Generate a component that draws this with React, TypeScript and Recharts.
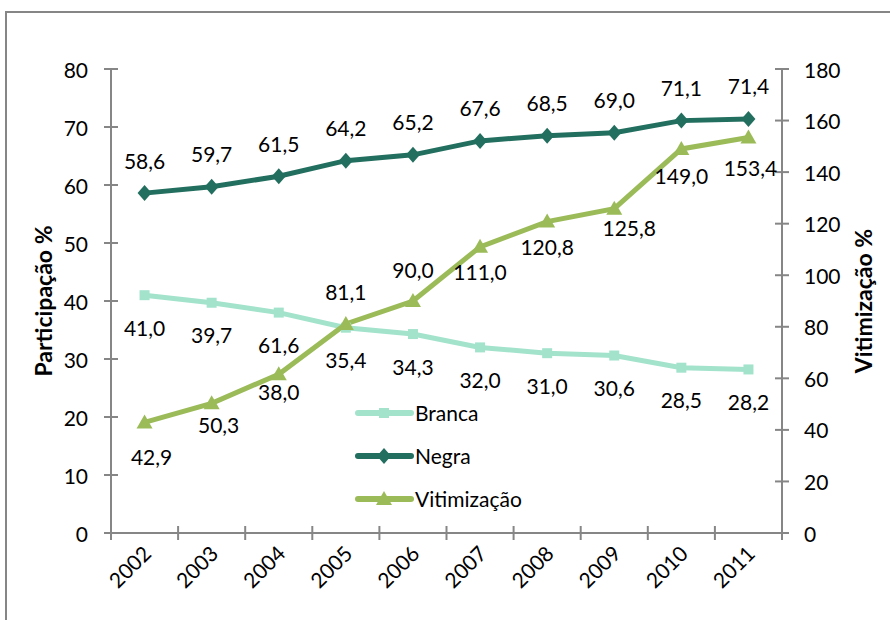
import React from 'react';
import { LineChart, Line, XAxis, YAxis, Legend, LabelList } from 'recharts';

const years = ['2002', '2003', '2004', '2005', '2006', '2007', '2008', '2009', '2010', '2011'];
const branca = [41.0, 39.7, 38.0, 35.4, 34.3, 32.0, 31.0, 30.6, 28.5, 28.2];
const negra = [58.6, 59.7, 61.5, 64.2, 65.2, 67.6, 68.5, 69.0, 71.1, 71.4];
const vitimizacao = [42.9, 50.3, 61.6, 81.1, 90.0, 111.0, 120.8, 125.8, 149.0, 153.4];
const leftTicks = [0, 10, 20, 30, 40, 50, 60, 70, 80];
const rightTicks = [0, 20, 40, 60, 80, 100, 120, 140, 160, 180];

// label placement as in the source chart (pixels from the point)
const brancaDy = 32;
const negraDy = -33;
const vitDy = [34, 21, 17, -32, -32, 25, 25, 19, 27, 30];
const vitDx = [7, 7, 0, 0, 0, 0, 0, 15, 0, 2];
// in the source the 2004 labels of Branca and Vitimização are swapped
const swappedIdx = 2;

const W = 890;
const H = 620;
const LEFT_W = 111;
const RIGHT_W = 108;
const X_H = 87;
const TOP = 69;
const BAND = (W - LEFT_W - RIGHT_W) / years.length;

const FONT = 'Lato, "Open Sans", sans-serif';
const AXIS = '#868686';
const C_BRANCA = '#A3E3CC';
const C_NEGRA = '#236F5F';
const C_VIT = '#9BBB59';

const data = years.map((year, i) => ({ year, branca: branca[i], negra: negra[i], vitimizacao: vitimizacao[i] }));

const fmt = (v: number) => v.toFixed(1).replace('.', ',');

function Marker({ kind, cx, cy, color }: { kind: string; cx: number; cy: number; color: string }) {
  if (cx == null || cy == null) return null;
  if (kind === 'square') return <rect x={cx - 5} y={cy - 5} width={10} height={10} fill={color} />;
  if (kind === 'diamond') return <path d={`M${cx},${cy - 8}L${cx + 7},${cy}L${cx},${cy + 8}L${cx - 7},${cy}Z`} fill={color} />;
  return <path d={`M${cx},${cy - 8}L${cx + 8},${cy + 6}L${cx - 8},${cy + 6}Z`} fill={color} />;
}

const dot = (kind: string, color: string) => (p: any) => <Marker key={p.index} kind={kind} cx={p.cx} cy={p.cy} color={color} />;

const txt = { fontFamily: FONT, fontSize: 21, fill: '#000' };

function LeftTick({ x, y, payload }: any) {
  return (
    <g>
      <line x1={x - 7} x2={x + 7} y1={y} y2={y} stroke={AXIS} strokeWidth={2} />
      <text x={x - 23} y={y} textAnchor="end" dominantBaseline="central" {...txt}>{payload.value}</text>
    </g>
  );
}

function RightTick({ x, y, payload }: any) {
  return (
    <g>
      <line x1={x - 7} x2={x + 7} y1={y} y2={y} stroke={AXIS} strokeWidth={2} />
      <text x={x + 22} y={y} textAnchor="start" dominantBaseline="central" {...txt}>{payload.value}</text>
    </g>
  );
}

function BottomTick({ x, y, payload, index }: any) {
  const bx = x - BAND / 2;
  return (
    <g>
      <line x1={bx} x2={bx} y1={y - 7} y2={y + 7} stroke={AXIS} strokeWidth={2} />
      {index === years.length - 1 && <line x1={bx + BAND} x2={bx + BAND} y1={y - 7} y2={y + 7} stroke={AXIS} strokeWidth={2} />}
      <text x={x + 8} y={y + 22} textAnchor="end" transform={`rotate(-45 ${x + 8} ${y + 22})`} {...txt}>{payload.value}</text>
    </g>
  );
}

const labelText = (x: number, y: number, s: string, key: any) => (
  <text key={key} x={x} y={y} textAnchor="middle" dominantBaseline="central" {...txt}>{s}</text>
);

const brancaLabel = (p: any) =>
  labelText(p.x, p.y + brancaDy, fmt(p.index === swappedIdx ? vitimizacao[p.index] : branca[p.index]), p.index);
const negraLabel = (p: any) => labelText(p.x, p.y + negraDy, fmt(negra[p.index]), p.index);
const vitLabel = (p: any) =>
  labelText(p.x + vitDx[p.index], p.y + vitDy[p.index], fmt(p.index === swappedIdx ? branca[p.index] : vitimizacao[p.index]), p.index);

const legendKinds = ['square', 'diamond', 'triangle'];

function LegendBox({ payload }: any) {
  return (
    <div style={{ fontFamily: FONT, fontSize: 21, color: '#000' }}>
      {(payload || []).map((e: any, i: number) => (
        <div key={e.value} style={{ display: 'flex', alignItems: 'center', height: 43 }}>
          <svg width={60} height={20}>
            <line x1={3} x2={56} y1={10} y2={10} stroke={e.color} strokeWidth={6} strokeLinecap="round" />
            <Marker kind={legendKinds[i]} cx={29} cy={10} color={e.color} />
          </svg>
          <span>{e.value}</span>
        </div>
      ))}
    </div>
  );
}

const axisTitle = (value: string, dx: number) => (p: any) => {
  const vb = p.viewBox;
  const cx = vb.x + dx;
  const cy = vb.y + vb.height / 2;
  return (
    <text x={cx} y={cy} textAnchor="middle" dominantBaseline="central" transform={`rotate(-90 ${cx} ${cy})`}
      fontFamily={FONT} fontSize={23} fontWeight="bold" fill="#000">{value}</text>
  );
};

export default function App() {
  return (
    <div style={{ position: 'absolute', left: 0, top: 0, width: W, height: H, overflow: 'hidden', background: '#fff' }}>
      <div style={{ position: 'absolute', left: 5, top: 11, width: 1000, height: 800, border: `2px solid ${AXIS}` }} />
      <div style={{ position: 'absolute', left: 0, top: 0 }}>
        <LineChart width={W} height={H} data={data} margin={{ top: TOP, right: 0, left: 0, bottom: 0 }}>
          <XAxis dataKey="year" height={X_H} interval={0} tickSize={0} tickMargin={0} padding={{ left: BAND / 2, right: BAND / 2 }}
            axisLine={{ stroke: AXIS, strokeWidth: 2 }} tickLine={false} tick={<BottomTick />} />
          <YAxis yAxisId="left" width={LEFT_W} domain={[0, 80]} ticks={leftTicks} tickSize={0} tickMargin={0}
            axisLine={{ stroke: AXIS, strokeWidth: 2 }} tickLine={false} tick={<LeftTick />}
            label={axisTitle('Participação %', 43)} />
          <YAxis yAxisId="right" orientation="right" width={RIGHT_W} domain={[0, 180]} ticks={rightTicks} tickSize={0} tickMargin={0}
            axisLine={{ stroke: AXIS, strokeWidth: 2 }} tickLine={false} tick={<RightTick />}
            label={axisTitle('Vitimização %', 81)} />
          <Legend layout="vertical" align="center" verticalAlign="middle" content={<LegendBox />}
            wrapperStyle={{ position: 'absolute', left: 355, top: 391, width: 220 }} />
          <Line yAxisId="left" name="Branca" dataKey="branca" stroke={C_BRANCA} strokeWidth={5}
            dot={dot('square', C_BRANCA)} activeDot={false} isAnimationActive={false}>
            <LabelList dataKey="branca" content={brancaLabel} />
          </Line>
          <Line yAxisId="left" name="Negra" dataKey="negra" stroke={C_NEGRA} strokeWidth={5}
            dot={dot('diamond', C_NEGRA)} activeDot={false} isAnimationActive={false}>
            <LabelList dataKey="negra" content={negraLabel} />
          </Line>
          <Line yAxisId="right" name="Vitimização" dataKey="vitimizacao" stroke={C_VIT} strokeWidth={5}
            dot={dot('triangle', C_VIT)} activeDot={false} isAnimationActive={false}>
            <LabelList dataKey="vitimizacao" content={vitLabel} />
          </Line>
        </LineChart>
      </div>
    </div>
  );
}
